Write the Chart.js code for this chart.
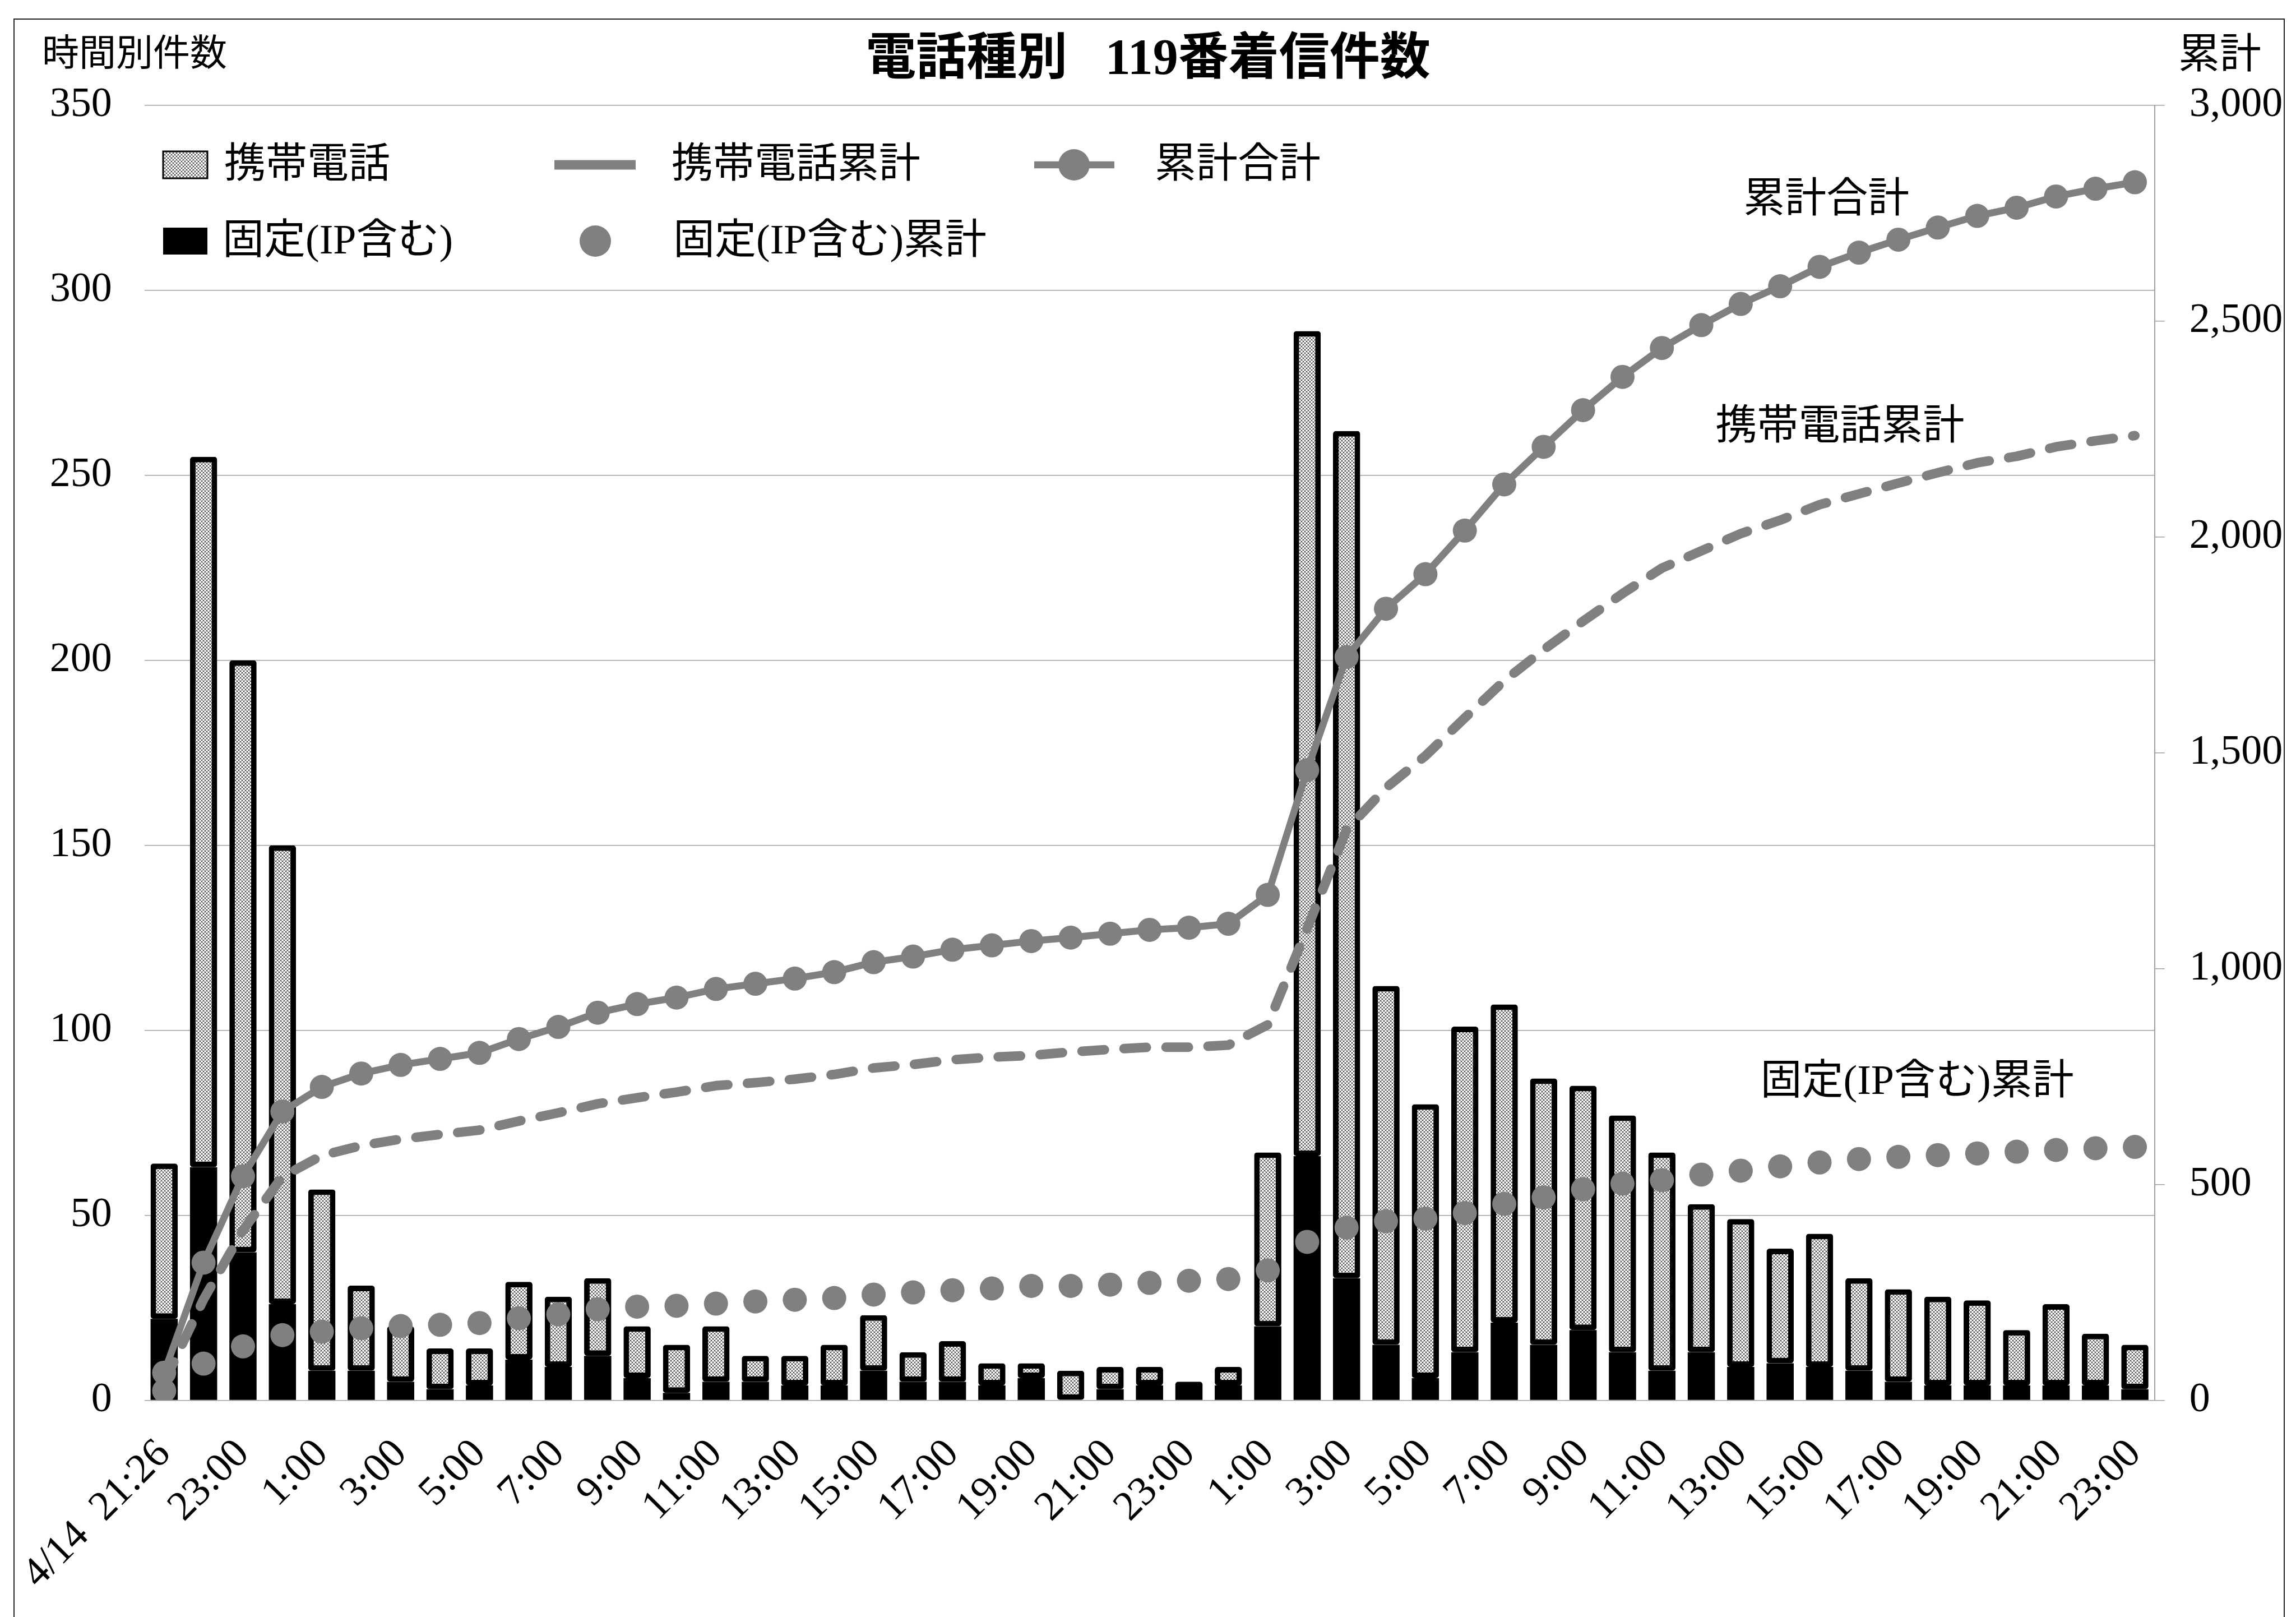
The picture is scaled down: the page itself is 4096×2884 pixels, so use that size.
<!DOCTYPE html>
<html lang="ja">
<head>
<meta charset="utf-8">
<title>電話種別 119番着信件数</title>
<script src="https://cdn.jsdelivr.net/npm/chart.js@4.4.0/dist/chart.umd.min.js"></script>
<style>
  html, body { margin: 0; padding: 0; background: #fff; overflow: hidden; }
  canvas { display: block; }
</style>
</head>
<body>
<canvas id="callChart" width="4096" height="2884"></canvas>
<script>
// hourly categories, 4/14 21:26 through 4/16 23:00
const timeLabels = [
    "4/14  21:26", "22:00", "23:00",
    "0:00", "1:00", "2:00", "3:00", "4:00", "5:00", "6:00", "7:00", "8:00", "9:00", "10:00", "11:00",
    "12:00", "13:00", "14:00", "15:00", "16:00", "17:00", "18:00", "19:00", "20:00", "21:00", "22:00", "23:00",
    "0:00", "1:00", "2:00", "3:00", "4:00", "5:00", "6:00", "7:00", "8:00", "9:00", "10:00", "11:00",
    "12:00", "13:00", "14:00", "15:00", "16:00", "17:00", "18:00", "19:00", "20:00", "21:00", "22:00", "23:00"
];

// calls per hour
const mobileCounts = [42, 192, 160, 124, 49, 23, 15, 11, 10, 21, 19, 21, 14, 13, 15, 7, 8, 11, 15, 8, 11, 6, 4, 8, 6, 5, 0, 5,
    47, 223, 229, 97, 74, 88, 86, 72, 66, 64, 59, 40, 40, 31, 36, 25, 25, 24, 23, 15, 22, 14, 12];
const fixedCounts = [22, 63, 40, 26, 8, 8, 5, 3, 4, 11, 9, 12, 6, 2, 5, 5, 4, 4, 8, 5, 5, 4, 6, 0, 3, 4, 5, 4,
    20, 66, 33, 15, 6, 13, 21, 15, 19, 13, 8, 13, 9, 10, 9, 8, 5, 4, 4, 4, 4, 4, 3];

// running totals (right axis)
const mobileCumulative = [42, 234, 394, 518, 567, 590, 605, 616, 626, 647, 666, 687, 701, 714, 729, 736, 744, 755, 770, 778,
    789, 795, 799, 807, 813, 818, 818, 823, 870, 1093, 1322, 1419, 1493, 1581, 1667, 1739, 1805, 1869, 1928, 1968,
    2008, 2039, 2075, 2100, 2125, 2149, 2172, 2187, 2209, 2223, 2235];
const fixedCumulative = [22, 85, 125, 151, 159, 167, 172, 175, 179, 190, 199, 211, 217, 219, 224, 229, 233, 237, 245, 250,
    255, 259, 265, 265, 268, 272, 277, 281, 301, 367, 400, 415, 421, 434, 455, 470, 489, 502, 510, 523,
    532, 542, 551, 559, 564, 568, 572, 576, 580, 584, 587];
const totalCumulative = [64, 319, 519, 669, 726, 757, 777, 791, 805, 837, 865, 898, 918, 933, 953, 965, 977, 992, 1015, 1028,
    1044, 1054, 1064, 1072, 1081, 1090, 1095, 1104, 1171, 1460, 1722, 1834, 1914, 2015, 2122, 2209, 2294, 2371, 2438, 2491,
    2540, 2581, 2626, 2659, 2689, 2717, 2744, 2763, 2789, 2807, 2822];

const FONT = '"Liberation Serif", "Noto Sans CJK JP", serif';
const GRAY = "#808080";

// small cross-hatch tile for the mobile bars
function makeHatch() {
    const size = 6;
    const tile = document.createElement("canvas");
    tile.width = size;
    tile.height = size;
    const t = tile.getContext("2d");
    t.fillStyle = "#fff";
    t.fillRect(0, 0, size, size);
    t.strokeStyle = "#000";
    t.lineWidth = 0.75;
    t.beginPath();
    t.moveTo(0, 0); t.lineTo(size, size);
    t.moveTo(size, 0); t.lineTo(0, size);
    t.stroke();
    return t.createPattern(tile, "repeat");
}
const hatch = makeHatch();

// legend, axis captions, series notes and the outer frame
const decor = {
    id: "decor",
    beforeDraw(chart) {
        const { ctx, width, height } = chart;
        ctx.save();
        ctx.fillStyle = "#fff";
        ctx.fillRect(0, 0, width, height);
        ctx.strokeStyle = "#222";
        ctx.lineWidth = 2;
        ctx.strokeRect(25, 34, 4050, height);
        ctx.restore();
    },
    afterDraw(chart) {
        const { ctx } = chart;
        const ds = chart.data.datasets;
        const x = chart.scales.x;
        const y2 = chart.scales.y2;

        ctx.save();
        ctx.fillStyle = "#000";
        ctx.textBaseline = "middle";

        ctx.font = `66px ${FONT}`;
        ctx.textAlign = "left";
        ctx.fillText("時間別件数", 75, 100);
        ctx.font = `74px ${FONT}`;
        ctx.textAlign = "right";
        ctx.fillText("累計", 4034, 102);

        // names next to the cumulative series
        ctx.textAlign = "left";
        const notes = [
            { text: ds[4].label, at: 40.07, value: 2779 },
            { text: ds[2].label, at: 39.36, value: 2252 },
            { text: ds[3].label, at: 40.5, value: 735 }
        ];
        notes.forEach(n => {
            ctx.fillText(n.text, x.getPixelForValue(n.at), y2.getPixelForValue(n.value));
        });

        // legend
        const row1 = 294, row2 = 430;
        ctx.fillStyle = ds[1].backgroundColor;
        ctx.fillRect(291, row1 - 24, 79, 48);
        ctx.strokeStyle = "#000";
        ctx.lineWidth = 3;
        ctx.strokeRect(291, row1 - 24, 79, 48);
        ctx.fillStyle = "#000";
        ctx.fillRect(291, row2 - 24, 79, 48);

        ctx.strokeStyle = GRAY;
        ctx.lineCap = "butt";
        ctx.lineWidth = ds[2].borderWidth;
        ctx.beginPath();
        ctx.moveTo(989, row1); ctx.lineTo(1134, row1);
        ctx.stroke();

        ctx.lineWidth = ds[4].borderWidth;
        ctx.beginPath();
        ctx.moveTo(1845, row1); ctx.lineTo(1988, row1);
        ctx.stroke();
        ctx.fillStyle = GRAY;
        ctx.beginPath();
        ctx.arc(1916, row1, 28, 0, Math.PI * 2);
        ctx.fill();
        ctx.beginPath();
        ctx.arc(1062, row2, 28, 0, Math.PI * 2);
        ctx.fill();

        ctx.fillStyle = "#000";
        ctx.font = `74px ${FONT}`;
        ctx.fillText(ds[1].label, 400, row1 + 3);
        ctx.fillText(ds[2].label, 1198, row1 + 3);
        ctx.fillText(ds[4].label, 2060, row1 + 3);
        ctx.fillText(ds[0].label, 397, row2 + 3);
        ctx.fillText(ds[3].label, 1201, row2 + 3);
        ctx.restore();
    }
};

const tickFont = { family: FONT, size: 74 };

new Chart(document.getElementById("callChart"), {
    type: "bar",
    data: {
        labels: timeLabels,
        datasets: [
            {
                type: "bar",
                label: "固定(IP含む)",
                data: fixedCounts,
                yAxisID: "y",
                backgroundColor: "#000",
                borderWidth: 0,
                borderRadius: 5,
                barPercentage: 0.69,
                categoryPercentage: 1,
                order: 2
            },
            {
                type: "bar",
                label: "携帯電話",
                data: mobileCounts,
                yAxisID: "y",
                backgroundColor: hatch,
                borderColor: "#000",
                borderWidth: 10,
                borderSkipped: false,
                borderRadius: 5,
                barPercentage: 0.69,
                categoryPercentage: 1,
                order: 2
            },
            {
                type: "line",
                label: "携帯電話累計",
                data: mobileCumulative,
                yAxisID: "y2",
                borderColor: GRAY,
                borderWidth: 17,
                borderDash: [40, 35],
                borderCapStyle: "round",
                borderJoinStyle: "round",
                pointRadius: 0,
                tension: 0,
                order: 1
            },
            {
                type: "line",
                label: "固定(IP含む)累計",
                data: fixedCumulative,
                yAxisID: "y2",
                showLine: false,
                pointRadius: 21.5,
                pointBackgroundColor: GRAY,
                pointBorderWidth: 0,
                order: 1
            },
            {
                type: "line",
                label: "累計合計",
                data: totalCumulative,
                yAxisID: "y2",
                borderColor: GRAY,
                borderWidth: 12.5,
                borderJoinStyle: "round",
                pointRadius: 21.5,
                pointBackgroundColor: GRAY,
                pointBorderWidth: 0,
                tension: 0,
                order: 0
            }
        ]
    },
    options: {
        responsive: false,
        devicePixelRatio: 1,
        animation: false,
        layout: { padding: 0 },
        plugins: {
            legend: { display: false },
            tooltip: { enabled: false },
            title: {
                display: true,
                text: "電話種別   119番着信件数",
                color: "#000",
                font: { family: FONT, size: 90, weight: "bold", lineHeight: 1.2 },
                padding: { top: 54.6, bottom: 25.4 }
            }
        },
        scales: {
            x: {
                stacked: true,
                grid: { display: false },
                border: { display: false },
                ticks: {
                    autoSkip: false,
                    minRotation: 45,
                    maxRotation: 45,
                    padding: 45,
                    color: "#000",
                    font: tickFont,
                    callback: (value, index) => (index % 2 === 0 ? timeLabels[index] : "")
                },
                afterFit: scale => { scale.height = 386.5; }
            },
            y: {
                stacked: true,
                position: "left",
                min: 0,
                max: 350,
                grid: { color: "#a0a0a0", lineWidth: 1.5, drawTicks: false },
                border: { display: false },
                ticks: { stepSize: 50, padding: 58, color: "#000", font: tickFont },
                afterFit: scale => { scale.width = 257.7; }
            },
            y2: {
                position: "right",
                min: 0,
                max: 3000,
                grid: { drawOnChartArea: false, color: "#a0a0a0", lineWidth: 1.5, tickLength: 18 },
                border: { display: true, color: "#a0a0a0", width: 2 },
                ticks: {
                    stepSize: 500,
                    padding: 44,
                    color: "#000",
                    font: tickFont,
                    callback: value => value.toLocaleString("en-US")
                },
                afterFit: scale => { scale.width = 252.3; }
            }
        }
    },
    plugins: [decor]
});
</script>
</body>
</html>
